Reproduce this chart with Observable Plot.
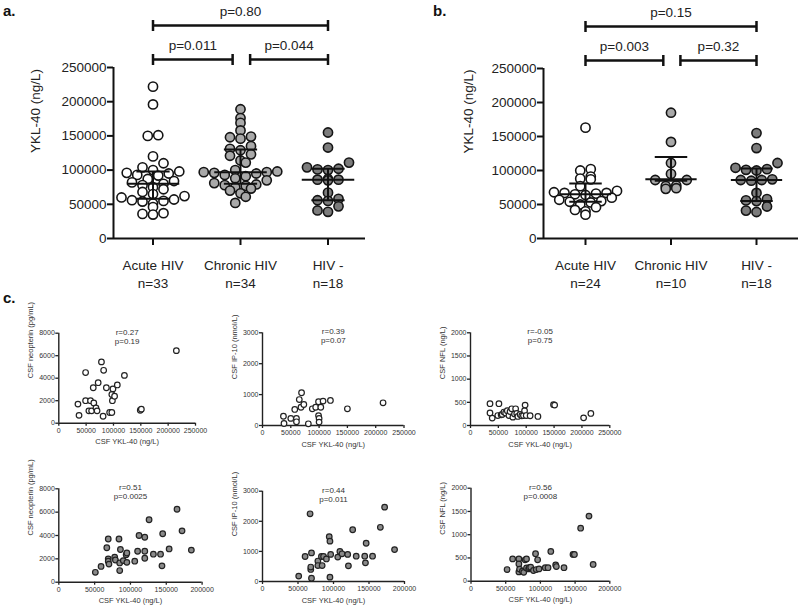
<!DOCTYPE html>
<html><head><meta charset="utf-8">
<script src="https://cdn.jsdelivr.net/npm/d3@7"></script>
<script src="https://cdn.jsdelivr.net/npm/@observablehq/plot@0.6"></script>
<style>
html,body{margin:0;padding:0;background:#fff;overflow:hidden}
#fig{position:relative;width:800px;height:608px;font-family:"Liberation Sans",Arial,Helvetica,sans-serif;color:#222}
.panel{position:absolute}
.letter{position:absolute;font-weight:bold;font-size:15px;color:#111}
</style></head><body><div id="fig"></div>
<script>
// ---------------- data ----------------
const groups = ["Acute HIV", "Chronic HIV", "HIV -"];
const groupFills = ["#ffffff", "#a9a9a9", "#7c7c7c"];

// panel a
const aN = [33, 34, 18];
const aAcute = [222000,196000,151000,150000,120000,110000,104000,100000,98000,96000,95000,93000,92000,87000,84000,82000,80000,78000,75000,72000,68000,65000,62000,60000,57000,56000,55000,54000,51000,46000,37000,36000,35000];
const aChronic = [189000,176000,169000,158000,149000,148000,146000,135000,131000,129000,123000,121000,114000,111000,100000,98000,97000,97000,96000,95000,93000,91000,88000,85000,81000,79000,78000,77000,75000,73000,70000,66000,61000,52000];
const aNeg = [155000,133000,111000,104000,102000,101000,100000,87000,86000,86000,85000,67000,58000,56000,55000,47000,41000,39000];
const aMedian = [80000, 97000, 86000];
const aQ1 = [58000, 80000, 56000];
const aQ3 = [98000, 130000, 102000];
const aPairs = [[0,1],[1,2],[0,2]];
const aP = ["p=0.011", "p=0.044", "p=0.80"];

// panel b
const bN = [24, 10, 18];
const bAcute = [163000,102000,100000,91000,88000,87000,77000,70000,68000,67000,67000,66000,65000,64000,60000,57000,55000,54000,53000,50000,46000,42000,40000,35000];
const bChronic = [185000,142000,111000,95000,86000,86000,78000,77000,74000,73000];
const bNeg = [155000,133000,111000,104000,102000,101000,100000,87000,86000,86000,85000,67000,58000,56000,55000,47000,41000,39000];
const bMedian = [65000, 87000, 86000];
const bQ1 = [54000, 85000, 55000];
const bQ3 = [81000, 120000, 103000];
const bPairs = [[0,1],[1,2],[0,2]];
const bP = ["p=0.003", "p=0.32", "p=0.15"];

const yTicksMain = [0, 50000, 100000, 150000, 200000, 250000];
const yLabelMain = "YKL-40 (ng/L)";

// panel c  [YKL-40, marker]
const xLabelC = "CSF YKL-40 (ng/L)";
const c1Neopterin = [[35000,1700],[37000,700],[49000,4500],[49000,2000],[55000,1100],[58000,2000],[60000,1100],[63000,3150],[64000,1800],[68000,1350],[70000,1100],[72000,3600],[78000,5450],[81000,620],[82000,4700],[87000,3150],[93000,950],[97000,950],[97000,2550],[98000,2000],[99000,3050],[102000,2400],[107000,3400],[120000,4250],[149000,1150],[151000,1250],[215000,6450]];
const c2IP10 = [[37000,300],[38000,65],[50000,230],[57000,520],[60000,230],[60000,120],[65000,840],[68000,590],[69000,1060],[73000,680],[81000,55],[88000,540],[94000,590],[99000,770],[99000,320],[100000,230],[100000,110],[103000,590],[107000,790],[120000,810],[150000,540],[213000,735]];
const c3NFL = [[35000,470],[35000,270],[39000,160],[49000,215],[51000,470],[55000,230],[57000,240],[60000,290],[63000,270],[66000,320],[69000,215],[71000,300],[74000,360],[76000,180],[79000,250],[81000,360],[83000,260],[85000,195],[89000,240],[92000,210],[95000,215],[97000,320],[98000,440],[100000,215],[107000,210],[121000,195],[149000,450],[151000,440],[203000,165],[216000,260]];
const c4Neopterin = [[51000,850],[59000,1350],[67000,2950],[69000,3700],[69000,2000],[69000,1800],[70000,1550],[78000,2150],[79000,1900],[84000,3700],[85000,1650],[85000,1000],[86000,2800],[90000,1850],[94000,2350],[95000,2500],[95000,1700],[106000,1800],[110000,2650],[112000,4000],[120000,3850],[120000,2650],[120000,2050],[126000,5350],[132000,2400],[142000,2400],[144000,1400],[145000,4150],[154000,2850],[165000,6250],[172000,4400],[185000,2750]];
const c5IP10 = [[51000,180],[60000,830],[67000,2250],[68000,400],[68000,480],[69000,110],[69000,950],[78000,680],[78000,530],[83000,830],[84000,530],[86000,830],[90000,750],[94000,1490],[95000,1340],[95000,145],[96000,900],[106000,810],[109000,1000],[112000,920],[120000,900],[121000,520],[127000,1720],[132000,840],[144000,840],[145000,620],[146000,1270],[155000,840],[166000,1800],[172000,2470],[186000,1060]];
const c6NFL = [[52000,250],[60000,480],[69000,480],[69000,370],[69000,200],[70000,260],[74000,215],[76000,190],[78000,460],[80000,480],[80000,285],[83000,265],[84000,290],[86000,300],[90000,230],[93000,590],[94000,250],[96000,460],[98000,265],[107000,290],[111000,290],[115000,640],[122000,350],[123000,315],[134000,290],[147000,575],[149000,575],[158000,1140],[170000,1400],[176000,360]];
const cStats = [["r=0.27","p=0.19"],["r=0.39","p=0.07"],["r=-0.05","p=0.75"],["r=0.51","p=0.0025"],["r=0.44","p=0.011"],["r=0.56","p=0.0008"]];

// ---------------- drawing ----------------
const FONT = '"Liberation Sans", Arial, Helvetica, sans-serif';
const fig = document.getElementById("fig");
function place(node, left, top) {
  const d = document.createElement("div");
  d.className = "panel"; d.style.left = left + "px"; d.style.top = top + "px";
  d.appendChild(node); fig.appendChild(d);
}
function letter(t, left, top) {
  const d = document.createElement("div");
  d.className = "letter"; d.textContent = t; d.style.left = left + "px"; d.style.top = top + "px";
  fig.appendChild(d);
}

// GraphPad-like row scatter: values binned into pixel rows, points in a row laid side by side
function rowScatter(vals, pxY, rowH, sep) {
  const off = new Array(vals.length);
  const rows = d3.group(vals.map((v, i) => ({v, i})), d => Math.floor(d.v * pxY / rowH));
  for (const [, items] of rows) {
    items.sort((a, b) => a.v - b.v);
    const k = items.length;
    const slots = d3.range(k).map(j => (j - (k - 1) / 2) * sep);
    const ord = d3.range(k).sort((a, b) => Math.abs(slots[a]) - Math.abs(slots[b]) || a - b);
    items.forEach((it, j) => { off[it.i] = slots[ord[j]]; });
  }
  return off;
}

function dotPanel({left, W, H, mL, mR, mT, mB, x0px, step, vals, n, med, q1, q3, pairs, pv, ylabOffset}) {
  const yMax = 250000;
  const plotH = H - mT - mB;
  const upp = yMax / plotH;
  const dom = [(mL - x0px) / step, (W - mR - x0px) / step];
  const pts = [];
  vals.forEach((arr, g) => {
    const off = rowScatter(arr, 1 / upp, 8.5, 10.5);
    arr.forEach((v, j) => pts.push({g, v, x: g + off[j] / step}));
  });
  const eb = med.map((m, i) => ({i, m, q1: q1[i], q3: q3[i]}));
  const br = pairs.map(([a, b], k) => {
    const level = (b - a === 2) ? 1 : 0;
    const gl = (level === 0 && a === 1) ? 0.11 : 0;
    const gr = (level === 0 && b === 1) ? 0.09 : 0;
    return {x1: a + gl, x2: b - gr, y: yMax + (8 + 34 * level) * upp, p: pv[k]};
  });
  const capH = 5.5 * upp;
  const sw = 2, col = "#111";
  const chart = Plot.plot({
    width: W, height: H, marginLeft: mL, marginRight: mR, marginTop: mT, marginBottom: mB,
    x: {domain: dom, axis: null},
    y: {domain: [0, yMax], axis: null},
    color: {type: "identity"},
    style: {fontFamily: FONT, background: "transparent", overflow: "visible", color: "#222"},
    marks: [
      Plot.axisY({ticks: yTicksMain, tickFormat: d => String(d), tickSize: 6, tickPadding: 1, fontSize: 13.5, strokeWidth: sw, stroke: col, label: null}),
      Plot.axisX({ticks: [0, 1, 2], tickFormat: () => "", tickSize: 7, strokeWidth: sw, stroke: col, label: null}),
      Plot.ruleX([dom[0]], {y1: 0, y2: yMax, stroke: col, strokeWidth: sw}),
      Plot.ruleY([0], {stroke: col, strokeWidth: sw}),
      Plot.text(groups, {x: (d, i) => i, y: 0, text: (d, i) => d + "\nn=" + n[i], dy: 34.5, lineHeight: 1.4, fontSize: 13.5, fill: "#222"}),
      Plot.text([yLabelMain], {frameAnchor: "left", dx: -ylabOffset, rotate: -90, fontSize: 13.5, fill: "#222"}),
      Plot.dot(pts, {x: "x", y: "v", r: 4.6, fill: d => groupFills[d.g], stroke: "#141414", strokeWidth: 1.6}),
      Plot.ruleX(eb, {x: "i", y1: "q1", y2: "q3", stroke: col, strokeWidth: sw}),
      Plot.link(eb, {x1: d => d.i - 0.3, x2: d => d.i + 0.3, y1: "m", y2: "m", stroke: col, strokeWidth: sw}),
      Plot.link(eb, {x1: d => d.i - 0.19, x2: d => d.i + 0.19, y1: "q1", y2: "q1", stroke: col, strokeWidth: sw}),
      Plot.link(eb, {x1: d => d.i - 0.19, x2: d => d.i + 0.19, y1: "q3", y2: "q3", stroke: col, strokeWidth: sw}),
      Plot.link(br, {x1: "x1", x2: "x2", y1: "y", y2: "y", stroke: col, strokeWidth: 2.5}),
      Plot.link(br, {x1: "x1", x2: "x1", y1: d => d.y - capH, y2: d => d.y + capH, stroke: col, strokeWidth: 2.5}),
      Plot.link(br, {x1: "x2", x2: "x2", y1: d => d.y - capH, y2: d => d.y + capH, stroke: col, strokeWidth: 2.5}),
      Plot.text(br, {x: d => (d.x1 + d.x2) / 2, y: "y", dy: -14, text: "p", fontSize: 13.5, fill: "#222"})
    ]
  });
  place(chart, left, 0);
}

dotPanel({left: 0, W: 400, H: 300, mL: 113, mR: 35, mT: 67, mB: 62, x0px: 152.5, step: 87.5,
  vals: [aAcute, aChronic, aNeg], n: aN, med: aMedian, q1: aQ1, q3: aQ3, pairs: aPairs, pv: aP, ylabOffset: 78});
dotPanel({left: 400, W: 400, H: 300, mL: 143, mR: 2, mT: 68, mB: 62, x0px: 185, step: 85.5,
  vals: [bAcute, bChronic, bNeg], n: bN, med: bMedian, q1: bQ1, q3: bQ3, pairs: bPairs, pv: bP, ylabOffset: 75});

function scatter({left, top, W, H, fx0, fx1, fy0, fy1, xMax, xStep, yMax, yStep, ylabel, data, fill, stats}) {
  const col = "#222";
  const chart = Plot.plot({
    width: W, height: H,
    marginLeft: fx0 - left, marginRight: left + W - fx1, marginTop: fy1 - top, marginBottom: top + H - fy0,
    x: {domain: [0, xMax], axis: null},
    y: {domain: [0, yMax], axis: null},
    style: {fontFamily: FONT, background: "transparent", overflow: "visible", color: "#333"},
    marks: [
      Plot.axisY({ticks: d3.range(0, yMax + 1, yStep), tickFormat: d => String(d), tickSize: 3, tickPadding: 1, fontSize: 7, strokeWidth: 1.3, stroke: col, fill: "#333", label: null}),
      Plot.axisX({ticks: d3.range(0, xMax + 1, xStep), tickFormat: d => String(d), tickSize: 3, tickPadding: 2, fontSize: 7, strokeWidth: 1.3, stroke: col, fill: "#333", label: null}),
      Plot.ruleX([0], {stroke: col, strokeWidth: 1.4}),
      Plot.ruleY([0], {stroke: col, strokeWidth: 1.4}),
      Plot.text([xLabelC], {frameAnchor: "bottom", dy: 21, fontSize: 7.5, fill: "#333"}),
      Plot.text([ylabel], {frameAnchor: "left", dx: -28, rotate: -90, fontSize: 7.5, fill: "#333"}),
      Plot.dot(data, {x: d => d[0], y: d => d[1], r: 2.8, fill, stroke: "#222", strokeWidth: 1.2}),
      Plot.text([stats.join("\n")], {frameAnchor: "top", lineAnchor: "middle", dy: 3, fontSize: 8, lineHeight: 1.15, fill: "#333"})
    ]
  });
  place(chart, left, top);
}

const rowFill = ["#ffffff", "#8a8a8a"];
scatter({left: 0, top: 300, W: 260, H: 160, fx0: 58.3, fx1: 195, fy0: 422.7, fy1: 332.7, xMax: 250000, xStep: 50000, yMax: 8000, yStep: 2000, ylabel: "CSF neopterin (pg/mL)", data: c1Neopterin, fill: rowFill[0], stats: cStats[0]});
scatter({left: 205, top: 300, W: 255, H: 160, fx0: 262, fx1: 403.5, fy0: 425, fy1: 332.3, xMax: 250000, xStep: 50000, yMax: 3000, yStep: 1000, ylabel: "CSF IP-10 (nmol/L)", data: c2IP10, fill: rowFill[0], stats: cStats[1]});
scatter({left: 410, top: 300, W: 260, H: 160, fx0: 470, fx1: 609.3, fy0: 425, fy1: 332.3, xMax: 250000, xStep: 50000, yMax: 2000, yStep: 500, ylabel: "CSF NFL (ng/L)", data: c3NFL, fill: rowFill[0], stats: cStats[2]});
scatter({left: 0, top: 455, W: 260, H: 160, fx0: 58.3, fx1: 201.6, fy0: 581.7, fy1: 488.3, xMax: 200000, xStep: 50000, yMax: 8000, yStep: 2000, ylabel: "CSF neopterin (pg/mL)", data: c4Neopterin, fill: rowFill[1], stats: cStats[3]});
scatter({left: 205, top: 455, W: 255, H: 160, fx0: 262, fx1: 404, fy0: 581, fy1: 490.7, xMax: 200000, xStep: 50000, yMax: 3000, yStep: 1000, ylabel: "CSF IP-10 (nmol/L)", data: c5IP10, fill: rowFill[1], stats: cStats[4]});
scatter({left: 410, top: 455, W: 260, H: 160, fx0: 470.5, fx1: 609.3, fy0: 580.7, fy1: 487.7, xMax: 200000, xStep: 50000, yMax: 2000, yStep: 500, ylabel: "CSF NFL (ng/L)", data: c6NFL, fill: rowFill[1], stats: cStats[5]});

letter("a.", 3, 2);
letter("b.", 433, 2);
letter("c.", 3, 289);
</script></body></html>
